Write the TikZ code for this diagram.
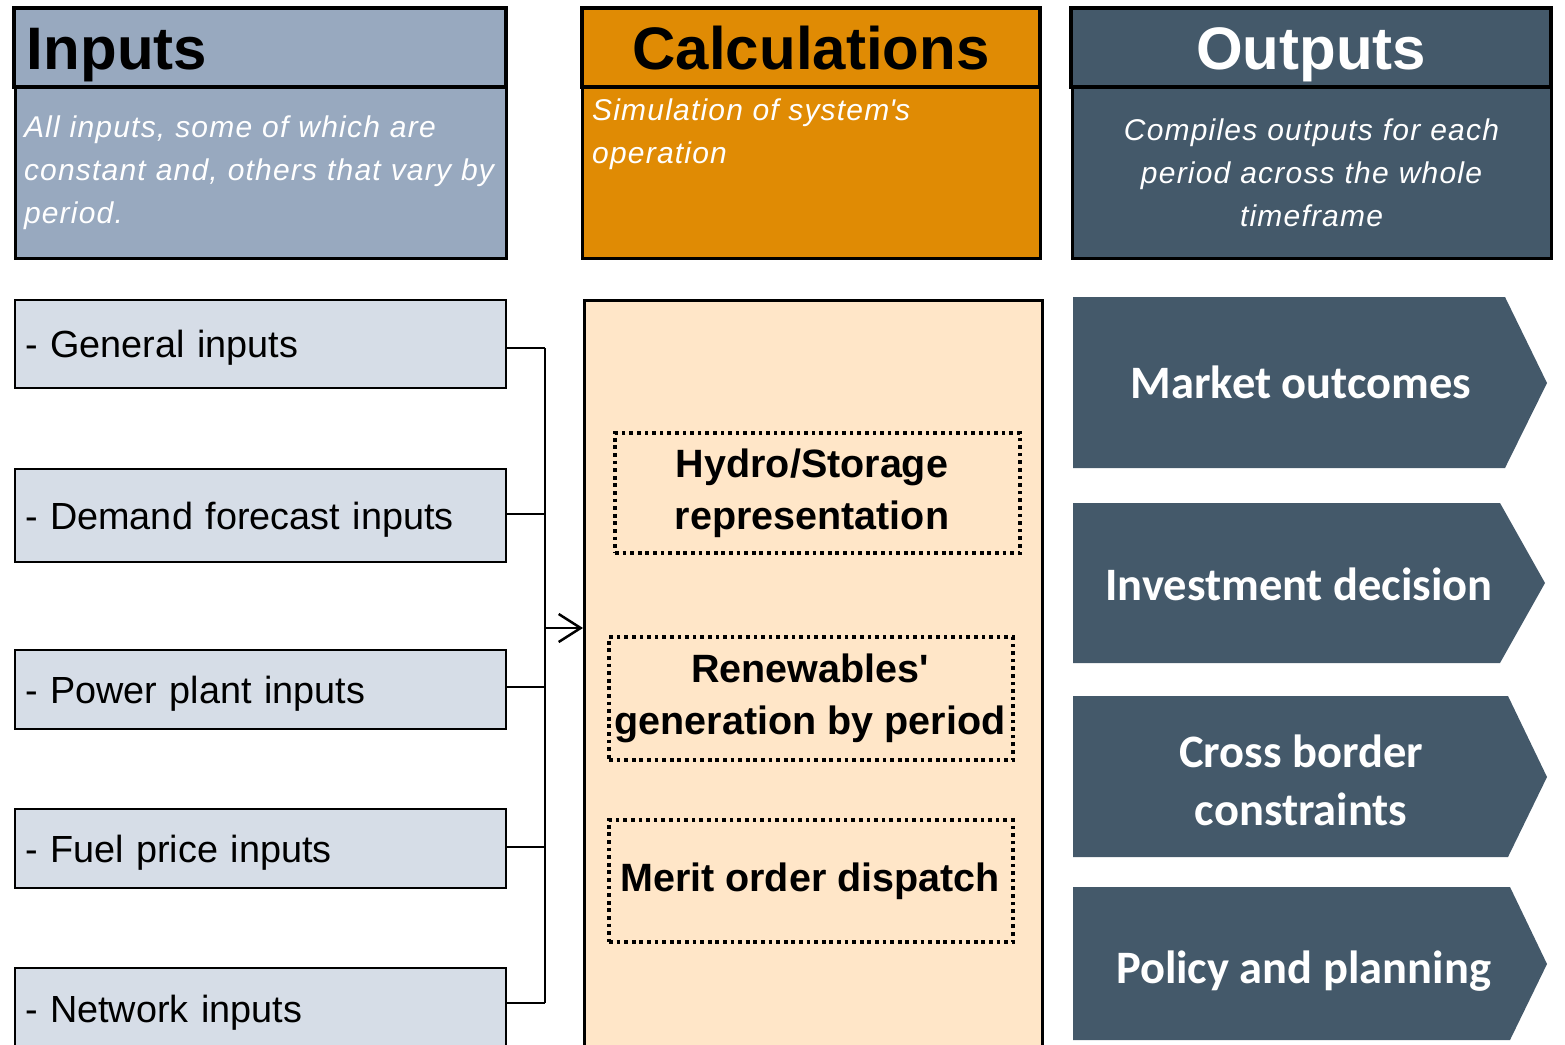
\documentclass[tikz,border=0pt]{standalone}
\usepackage{fontspec}
\setmainfont{Liberation Sans}
\newfontfamily\calfont{Carlito}
\usetikzlibrary{arrows.meta}
\definecolor{inhdr}{HTML}{98A9BF}
\definecolor{inboxc}{HTML}{D6DDE7}
\definecolor{calhdr}{HTML}{E08B04}
\definecolor{calbody}{HTML}{FFE6C8}
\definecolor{outc}{HTML}{44596A}
\begin{document}
\begin{tikzpicture}[x=1pt,y=-1pt,
  hdr/.style={draw=black, line width=4pt, minimum height=79pt, inner xsep=13pt, text width=#1, text height=43pt, text depth=0pt, font=\fontsize{60}{72}\selectfont\bfseries},
  bodybox/.style={draw=black, line width=3pt, minimum height=171pt},
  bodytext/.style={text=white, font=\fontsize{30}{43}\selectfont\itshape\addfontfeatures{LetterSpace=4}},
  inbox/.style={draw=black, line width=2.5pt, fill=inboxc, minimum width=491pt, inner xsep=10pt, text width=471pt, align=left, text height=27pt, text depth=0pt, font=\fontsize{37.8}{44}\selectfont},
  dotbox/.style={draw=black, line width=4.6pt, dash pattern=on 3.7pt off 3.9pt, inner sep=0pt},
  dottext/.style={font=\fontsize{39.5}{52}\selectfont\bfseries, align=center, inner sep=0pt},
  chev/.style={fill=outc},
  chevtext/.style={text=white, font=\calfont\fontsize{46.5}{58}\selectfont\bfseries, align=center},
  link/.style={draw=black, line width=2pt}
]
\useasboundingbox (0,0) rectangle (1565,1044);
\clip (0,0) rectangle (1565,1044);

% headers
\node[hdr=466pt, fill=inhdr, minimum width=492pt, align=left] (inh) at (260,47.5) {Inputs};
\node[hdr=432pt, fill=calhdr, minimum width=458pt, align=center] (calh) at (811,47.5) {Calculations};
\node[hdr=454pt, fill=outc, minimum width=480pt, align=center, text=white] (outh) at (1311,47.5) {Outputs};

% header bodies
\node[bodybox, fill=inhdr, minimum width=491pt, text width=473pt, inner xsep=9pt, align=left, bodytext] (inb) at (260.5,173)
  {All inputs, some of which are\\constant and, others that vary by\\period.};
\node[bodybox, fill=calhdr, minimum width=458pt] (calbh) at (811,173) {};
\node[bodytext, anchor=north west, inner sep=0pt, align=left] (calt) at (592,98.5)
  {Simulation of system\textquotesingle s\\operation};
\node[bodybox, fill=outc, minimum width=479pt, text width=461pt, inner xsep=9pt, align=center, bodytext] (outb) at (1311.5,173)
  {Compiles outputs for each\\period across the whole\\timeframe};

% input boxes
\node[inbox, minimum height=88pt] (gen) at (260.5,344) {- General inputs};
\node[inbox, minimum height=93pt] (dem) at (260.5,515.5) {- Demand forecast inputs};
\node[inbox, minimum height=79pt] (pow) at (260.5,689.5) {- Power plant inputs};
\node[inbox, minimum height=79pt] (fuel) at (260.5,848.5) {- Fuel price inputs};
\node[inbox, minimum height=81pt] (net) at (260.5,1008.5) {- Network inputs};

% calculation body
\node[draw=black, line width=2.5pt, fill=calbody, minimum width=458pt, minimum height=760pt, anchor=north west, inner sep=0pt] (calb) at (583,299) {};
\node[dotbox, minimum width=405pt, minimum height=120pt] (hyd) at (817.5,493) {};
\node[dottext] (hydt) at (812,493) {Hydro/Storage\\representation};
\node[dotbox, minimum width=404pt, minimum height=123pt] (ren) at (811,698.5) {};
\node[dottext] (rent) at (810,698.5) {Renewables\textquotesingle\\generation by period};
\node[dotbox, minimum width=404pt, minimum height=122pt] (mer) at (811,881) {};
\node[dottext] (mert) at (810,881) {Merit order dispatch};

% connectors
\coordinate (busx) at (544.5,0);
\coordinate (g1) at ([yshift=-4pt]gen.east);
\coordinate (d1) at ([yshift=1.5pt]dem.east);
\coordinate (p1) at ([yshift=2.5pt]pow.east);
\coordinate (f1) at ([yshift=1.5pt]fuel.east);
\coordinate (n1) at ([yshift=5.5pt]net.east);
\coordinate (bus) at (544.5,628);
\draw[link] (g1) -- (g1 -| busx);
\draw[link] (d1) -- (d1 -| busx);
\draw[link] (p1) -- (p1 -| busx);
\draw[link] (f1) -- (f1 -| busx);
\draw[link] (n1) -- (n1 -| busx);
\draw[link] (g1 -| busx) -- (n1 -| busx);
\draw[link, -{Straight Barb[length=22pt,width=28pt,line width=2.5pt]}] (bus) -- (bus -| calb.west);

% output chevrons
\fill[chev] (1073,297) -- (1505,297) -- (1547,383) -- (1505,468) -- (1073,468) -- cycle;
\fill[chev] (1073,503) -- (1500,503) -- (1545,583) -- (1500,663) -- (1073,663) -- cycle;
\fill[chev] (1073,696) -- (1508,696) -- (1547,777) -- (1508,857) -- (1073,857) -- cycle;
\fill[chev] (1073,887) -- (1510,887) -- (1547,964) -- (1510,1040) -- (1073,1040) -- cycle;
\node[chevtext, anchor=base] (mkt) at (1301,398) {Market outcomes};
\node[chevtext, anchor=base] (inv) at (1299,600) {Investment decision};
\node[chevtext] (cross) at (1301,780.5) {Cross border\\constraints};
\node[chevtext, anchor=base] (pol) at (1303.5,983) {Policy and planning};
\end{tikzpicture}
\end{document}
